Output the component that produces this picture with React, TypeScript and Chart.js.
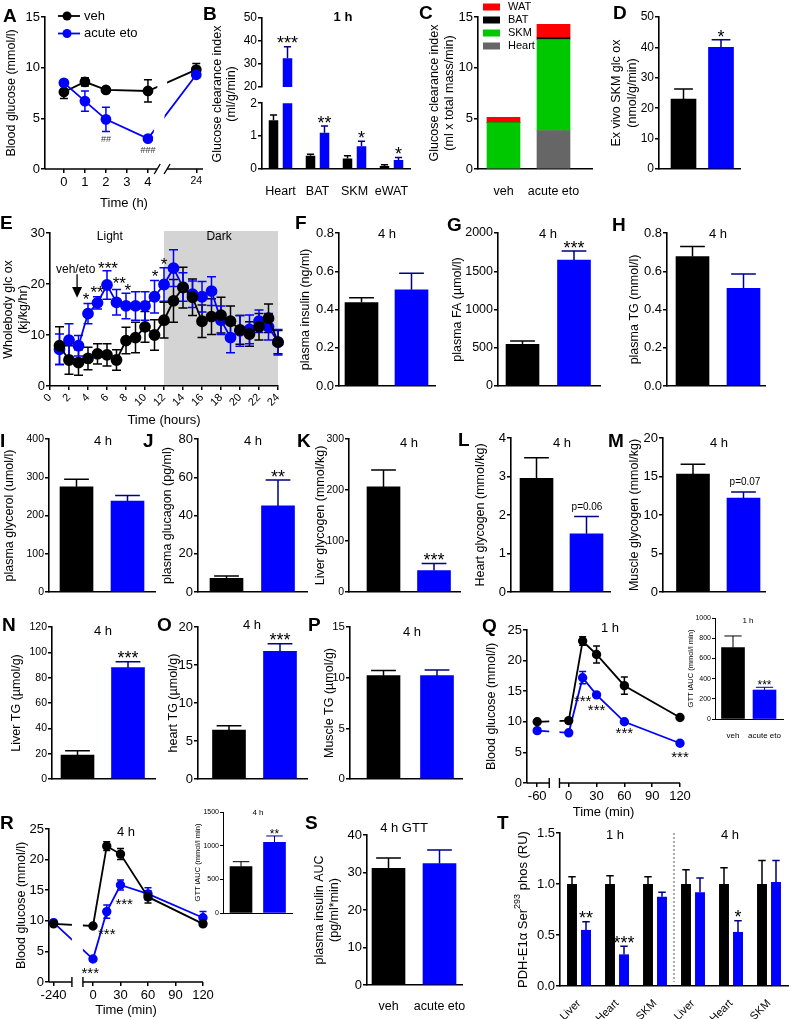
import React, { useEffect, useRef } from "react";
import { Chart, registerables } from "chart.js";

Chart.register(...registerables);
const FONT = "'Liberation Sans', Arial, Helvetica, sans-serif";
Chart.defaults.font.family = FONT;
Chart.defaults.color = "#000";

const BLACK = "#000000";
const BLUE = "#0000ff";
const NAVY = "#000080";
const GREEN = "#00c800";
const RED = "#ff0000";
const GREY = "#666666";

/* ======================= DATA ======================= */
// A
const aTimes = [0, 1, 2, 4, 24];
const aTicks = [0, 1, 2, 3, 4, 24];
const aVeh = [7.6, 8.6, 7.8, 7.7, 9.8];
const aVehErr = [0.65, 0.4, 0.15, 1.1, 0.6];
const aEto = [8.5, 6.7, 4.9, 3.0, 9.3];
const aEtoErr = [0.25, 1.0, 1.2, 0.12, 0.3];
// B
const bTissues = ["Heart", "BAT", "SKM", "eWAT"];
const bVeh = [1.48, 0.4, 0.32, 0.09];
const bVehErr = [0.16, 0.05, 0.08, 0.04];
const bEto = [32.5, 1.1, 0.69, 0.27];
const bEtoErr = [5.0, 0.21, 0.15, 0.08];
const bStars = ["***", "**", "*", "*"];
// C
const cGroups = ["veh", "acute eto"];
const cHeart = [0, 3.8];
const cSKM = [4.58, 8.98];
const cBAT = [0, 0.2];
const cWAT = [0.53, 1.3];
// D
const groups2 = ["veh", "acute eto"];
const dVals = [23.0, 40.0];
const dErrs = [3.3, 2.5];
const dStars = ["", "*"];
// E
const eHours = [1, 2, 3, 4, 5, 6, 7, 8, 9, 10, 11, 12, 13, 14, 15, 16, 17, 18, 19, 20, 21, 22, 23, 24];
const eVeh = [7.9, 5.1, 4.6, 5.4, 6.3, 6.1, 5.1, 8.9, 9.5, 11.6, 10.0, 12.9, 16.7, 19.3, 17.4, 12.7, 13.6, 13.9, 12.7, 11.0, 10.2, 11.6, 13.3, 8.6];
const eVehErr = [3.7, 2.8, 2.5, 2.2, 2.0, 2.2, 2.0, 2.6, 3.0, 3.0, 3.0, 3.5, 4.2, 4.0, 3.6, 3.2, 3.5, 3.5, 3.0, 2.8, 2.4, 2.6, 2.8, 2.3];
const eEto = [7.2, 9.0, 7.9, 14.2, 16.3, 19.8, 16.4, 15.7, 15.7, 15.7, 17.5, 19.9, 23.1, 19.4, 18.0, 17.5, 18.6, 12.9, 9.5, 10.8, 11.1, 12.7, 11.6, 8.6];
const eEtoErr = [3.0, 3.2, 2.0, 2.0, 1.2, 2.8, 2.5, 2.5, 2.8, 2.8, 3.2, 3.3, 3.6, 2.8, 2.6, 3.0, 2.8, 2.8, 3.0, 3.0, 2.8, 2.2, 2.6, 2.5];
const eStarX = [3.8, 4.95, 6.1, 7.3, 8.2, 11.05, 12.0];
const eStarY = [17.8, 19.2, 23.9, 20.9, 19.5, 22.4, 24.7];
const eStarText = ["*", "**", "***", "**", "*", "*", "*"];
const eDark = [12, 24];
// F - P (veh, acute eto)
const fVals = [0.436, 0.503];
const fErrs = [0.026, 0.087];
const gVals = [545, 1647];
const gErrs = [43, 118];
const hVals = [0.677, 0.511];
const hErrs = [0.052, 0.074];
const iVals = [275, 238];
const iErrs = [20, 14];
const jVals = [7.2, 45.0];
const jErrs = [1.2, 13.6];
const kVals = [206, 42];
const kErrs = [33, 14];
const lVals = [2.95, 1.51];
const lErrs = [0.54, 0.45];
const mVals = [15.3, 12.2];
const mErrs = [1.3, 0.8];
const nVals = [18.9, 87.9];
const nErrs = [3.4, 4.7];
const oVals = [6.45, 16.8];
const oErrs = [0.57, 1.0];
const pVals = [10.2, 10.2];
const pErrs = [0.5, 0.56];
// Q
const qTimes = [-60, 0, 15, 30, 60, 120];
const qTicks = [-60, 0, 30, 60, 90, 120];
const qVeh = [10.0, 10.2, 23.2, 21.0, 15.9, 10.7];
const qVehErr = [0.2, 0.3, 0.7, 1.4, 1.4, 0.3];
const qEto = [8.55, 8.2, 17.2, 14.4, 10.0, 6.5];
const qEtoErr = [0.2, 0.3, 1.0, 0.3, 0.3, 0.3];
const qStarX = [15, 30, 60, 120];
const qStarY = [14.0, 12.5, 8.7, 4.9];
const qAUC = [706, 287];
const qAUCErr = [116, 27];
// R
const rTimes = [-240, 0, 15, 30, 60, 120];
const rTicks = [-240, 0, 30, 60, 90, 120];
const rVeh = [9.5, 9.15, 22.2, 20.9, 13.9, 9.5];
const rVehErr = [0.2, 0.2, 0.7, 0.9, 1.0, 0.3];
const rEto = [9.7, 3.75, 11.5, 15.85, 14.4, 10.5];
const rEtoErr = [0.2, 0.3, 1.1, 0.8, 1.0, 1.0];
const rStarX = [-3, 15, 34];
const rStarY = [2.0, 8.5, 13.4];
const rAUC = [688, 1050];
const rAUCErr = [74, 94];
// S
const sVals = [31.1, 32.4];
const sErrs = [2.8, 3.6];
// T
const tLabels = ["Liver", "Heart", "SKM", "Liver", "Heart", "SKM"];
const tVeh = [1, 1, 1, 1, 1, 1];
const tVehErr = [0.07, 0.08, 0.07, 0.14, 0.16, 0.23];
const tEto = [0.55, 0.31, 0.875, 0.92, 0.53, 1.02];
const tEtoErr = [0.08, 0.08, 0.045, 0.14, 0.11, 0.21];
const tStars = ["**", "***", "", "", "*", ""];

/* ======================= HELPERS ======================= */
type Rect = { x: number; y: number; w: number; h: number };
type Area = { l: number; t: number; r: number; b: number };
type Txt = { x: number; y: number; text: string; size?: number; bold?: boolean; align?: any; color?: string; data?: boolean; star?: boolean };

const fnt = (size: number, bold = false) => `${bold ? "bold " : ""}${size}px ${FONT}`;

function baseOpts(rect: Rect, area: Area, scales: any) {
  return {
    animation: false,
    responsive: false,
    maintainAspectRatio: false,
    events: [],
    layout: { padding: { left: 0, top: area.t - rect.y, right: rect.x + rect.w - area.r, bottom: 0 } },
    plugins: { legend: { display: false }, tooltip: { enabled: false }, title: { display: false } },
    scales,
  };
}

function yAxis(rect: Rect, area: Area, min: number, max: number, step: number, o: any = {}) {
  const fs = o.fs ?? 13;
  const tfs = o.titleSize ?? 12.5;
  const lh = o.titleLH ?? 1.2;
  const vals: number[] = [];
  for (let v = min; v <= max + 1e-9; v += step) vals.push(+v.toFixed(6));
  return {
    type: "linear",
    min,
    max,
    stacked: !!o.stacked,
    afterFit: (s: any) => { s.width = area.l - rect.x; },
    afterBuildTicks: (s: any) => { s.ticks = vals.map((v) => ({ value: v })); },
    ticks: { autoSkip: false, font: { family: FONT, size: fs }, color: "#000", padding: o.pad ?? 1, callback: (v: any) => Number(v).toFixed(o.dec ?? 0) },
    grid: { display: true, drawOnChartArea: false, drawTicks: true, tickLength: o.tickLen ?? 4, color: "#000", lineWidth: o.bw ?? 1.5 },
    border: { display: true, color: "#000", width: o.bw ?? 1.6 },
    title: o.title
      ? { display: true, text: o.title, color: "#000", font: { family: FONT, size: tfs, lineHeight: lh }, padding: { top: o.titleX - rect.x - (tfs * lh) / 2, bottom: 0 } }
      : { display: false },
  };
}

function xLine(rect: Rect, area: Area, min: number, max: number, tickVals: number[], label: (v: number) => string, o: any = {}) {
  return {
    type: "linear",
    min,
    max,
    afterFit: (s: any) => { s.height = rect.y + rect.h - area.b; },
    afterBuildTicks: (s: any) => { s.ticks = tickVals.map((v) => ({ value: v })); },
    ticks: { autoSkip: false, font: o.tickFont ?? { family: FONT, size: o.fs ?? 13 }, color: "#000", padding: o.pad ?? 2, maxRotation: o.rot ?? 0, minRotation: o.rot ?? 0, callback: (v: any) => label(v) },
    grid: { display: true, drawOnChartArea: false, drawTicks: true, tickLength: 4, color: "#000", lineWidth: 1.5 },
    border: { display: !o.broken, color: "#000", width: 1.6 },
    title: { display: true, text: o.title, color: "#000", font: { family: FONT, size: 13, lineHeight: 1.2 }, padding: { top: 0, bottom: rect.y + rect.h - o.titleY - 7.8 } },
  };
}

function xBar(rect: Rect, area: Area, min: number, max: number, labels: string[] | null, o: any = {}) {
  return {
    type: "linear",
    min,
    max,
    offset: false,
    stacked: !!o.stacked,
    afterFit: (s: any) => { s.height = rect.y + rect.h - area.b; },
    afterBuildTicks: (s: any) => { s.ticks = (labels || []).map((_, i) => ({ value: i })); },
    ticks: { display: !!labels, autoSkip: false, maxRotation: 0, minRotation: 0, font: { family: FONT, size: o.fs ?? 12.5 }, color: "#000", padding: o.pad ?? 7, callback: (v: any) => (labels ? labels[v] : "") },
    grid: { display: false },
    border: { display: true, color: "#000", width: o.bw ?? 1.6 },
  };
}

function xCat(rect: Rect, area: Area, o: any = {}) {
  return {
    type: "category",
    offset: true,
    afterFit: (s: any) => { s.height = rect.y + rect.h - area.b; },
    ticks: { display: !!o.show, autoSkip: false, font: { family: FONT, size: o.fs ?? 12.5 }, color: "#000", padding: o.pad ?? 7, maxRotation: o.rot ?? 0, minRotation: o.rot ?? 0 },
    grid: { display: false },
    border: { display: o.border !== false, color: "#000", width: 1.6 },
  };
}

function lineDs(label: string, xs: number[], ys: number[], errs: number[], color: string, r: number, cap: number) {
  return {
    label,
    data: xs.map((x, i) => ({ x, y: ys[i] })),
    errors: errs,
    errorColor: color,
    capWidth: cap,
    borderColor: color,
    backgroundColor: color,
    pointBackgroundColor: color,
    pointBorderColor: color,
    pointRadius: r,
    pointHoverRadius: r,
    borderWidth: 1.8,
    tension: 0,
    clip: false,
  };
}

function errorBars(starFs = 18, starGap = 5) {
  const draw = (chart: any, kind: string) => {
    const ctx = chart.ctx;
    chart.data.datasets.forEach((ds: any, i: number) => {
      const meta = chart.getDatasetMeta(i);
      if (meta.type !== kind || !ds.errors) return;
      const ys = chart.scales[meta.yAxisID];
      meta.data.forEach((el: any, j: number) => {
        const raw = ds.data[j];
        const v = raw == null ? null : typeof raw === "number" ? raw : raw.y;
        const e = ds.errors[j];
        if (v == null || e == null) return;
        const col = Array.isArray(ds.errorColor) ? ds.errorColor[j] : ds.errorColor ?? "#000";
        ctx.save();
        ctx.strokeStyle = col;
        ctx.lineWidth = ds.errorWidth ?? 1.5;
        if (kind === "bar") {
          if (v > ys.max) { ctx.restore(); return; }
          const top = ys.getPixelForValue(Math.min(v + e, ys.max));
          const cw = Math.max(6, el.width * 0.75) / 2;
          ctx.beginPath();
          ctx.moveTo(el.x, el.y);
          ctx.lineTo(el.x, top);
          ctx.moveTo(el.x - cw, top);
          ctx.lineTo(el.x + cw, top);
          ctx.stroke();
          const s = ds.stars && ds.stars[j];
          if (s) {
            const fs = ds.starSize ?? starFs;
            ctx.fillStyle = "#000";
            ctx.font = fnt(fs);
            ctx.textAlign = "center";
            ctx.textBaseline = "alphabetic";
            ctx.fillText(s, el.x, top - (ds.starGap ?? starGap) + 0.43 * fs);
          }
        } else {
          const y1 = ys.getPixelForValue(v - e);
          const y2 = ys.getPixelForValue(v + e);
          const cw = (ds.capWidth ?? 8) / 2;
          ctx.beginPath();
          ctx.moveTo(el.x, y1);
          ctx.lineTo(el.x, y2);
          ctx.moveTo(el.x - cw, y1);
          ctx.lineTo(el.x + cw, y1);
          ctx.moveTo(el.x - cw, y2);
          ctx.lineTo(el.x + cw, y2);
          ctx.stroke();
        }
        ctx.restore();
      });
    });
  };
  return {
    id: "errorBars",
    beforeDatasetsDraw: (c: any) => draw(c, "line"),
    afterDatasetsDraw: (c: any) => draw(c, "bar"),
  };
}

function deco(rect: Rect, texts: Txt[], draw?: (ctx: any, chart: any, P: any) => void) {
  return {
    id: "deco",
    afterDraw(chart: any) {
      const ctx = chart.ctx;
      const P = { x: (v: number) => v - rect.x, y: (v: number) => v - rect.y };
      ctx.save();
      if (draw) draw(ctx, chart, P);
      for (const t of texts) {
        const size = t.size ?? 13;
        ctx.font = fnt(size, t.bold);
        ctx.fillStyle = t.color ?? "#000";
        ctx.textAlign = t.align ?? "center";
        let x: number, y: number;
        if (t.data) {
          x = chart.scales.x.getPixelForValue(t.x);
          y = chart.scales.y.getPixelForValue(t.y);
        } else {
          x = t.x - rect.x;
          y = t.y - rect.y;
        }
        if (t.star) {
          ctx.textBaseline = "alphabetic";
          y += 0.58 * size;
        } else ctx.textBaseline = "middle";
        ctx.fillText(t.text, x, y);
      }
      ctx.restore();
    },
  };
}

function vText(ctx: any, runs: { t: string; size: number; dy?: number }[], x: number, y: number) {
  ctx.save();
  ctx.translate(x, y);
  ctx.rotate(-Math.PI / 2);
  ctx.textBaseline = "middle";
  ctx.textAlign = "left";
  ctx.fillStyle = "#000";
  let total = 0;
  runs.forEach((r) => { ctx.font = fnt(r.size); total += ctx.measureText(r.t).width; });
  let cx = -total / 2;
  runs.forEach((r) => { ctx.font = fnt(r.size); ctx.fillText(r.t, cx, r.dy ?? 0); cx += ctx.measureText(r.t).width; });
  ctx.restore();
}

function brokenAxis(opt: { from: number; to: number; mark: string; band?: number[][] }) {
  return {
    id: "brokenAxis",
    afterDatasetsDraw(chart: any) {
      const { ctx, chartArea: ca, scales } = chart;
      const x = scales.x;
      const x1 = x.getPixelForValue(opt.from);
      const x2 = x.getPixelForValue(opt.to);
      ctx.save();
      ctx.fillStyle = "#fff";
      ctx.beginPath();
      if (opt.band) {
        opt.band.forEach(([p, f], i) => {
          const X = x.getPixelForValue(p);
          const Y = ca.bottom - 1 - f * (ca.bottom - 1 - ca.top);
          if (i) ctx.lineTo(X, Y); else ctx.moveTo(X, Y);
        });
        ctx.closePath();
      } else {
        ctx.rect(x1, ca.top - 2, x2 - x1, ca.bottom - ca.top + 1);
      }
      ctx.fill();
      const y = ca.bottom;
      ctx.strokeStyle = "#000";
      ctx.lineWidth = 1.6;
      ctx.beginPath();
      ctx.moveTo(ca.left, y);
      ctx.lineTo(x1, y);
      ctx.moveTo(x2, y);
      ctx.lineTo(ca.right, y);
      ctx.stroke();
      ctx.lineWidth = 1.4;
      ctx.beginPath();
      if (opt.mark === "bar") {
        ctx.moveTo(x1, y - 5); ctx.lineTo(x1, y + 5);
        ctx.moveTo(x2, y - 5); ctx.lineTo(x2, y + 5);
      } else {
        ctx.moveTo(x1 - 3, y + 5); ctx.lineTo(x1 + 3, y - 5);
        ctx.moveTo(x2 - 3, y + 5); ctx.lineTo(x2 + 3, y - 5);
      }
      ctx.stroke();
      ctx.restore();
    },
  };
}

function twoBar(p: any) {
  const { rect, area } = p;
  const unit = p.centers[1] - p.centers[0];
  const min = (area.l - p.centers[0]) / unit;
  const max = (area.r - p.centers[0]) / unit;
  const config = {
    type: "bar",
    data: {
      datasets: [
        {
          label: "veh / acute eto",
          data: p.values.map((v: number, i: number) => ({ x: i, y: v })),
          backgroundColor: [BLACK, BLUE],
          borderWidth: 0,
          barThickness: p.barW,
          errors: p.errors,
          errorColor: [BLACK, NAVY],
          errorWidth: p.errW ?? 1.5,
          stars: p.stars,
          starSize: p.starFs,
          starGap: p.starGap,
        },
      ],
    },
    options: baseOpts(rect, area, {
      x: xBar(rect, area, min, max, p.groups ?? null, { fs: p.labelFs, pad: p.labelPad, bw: p.bw }),
      y: yAxis(rect, area, 0, p.yMax, p.yStep, { dec: p.dec, title: p.yTitle, titleX: p.yTitleX, titleLH: p.titleLH, titleSize: p.titleSize, fs: p.fs, tickLen: p.tickLen, bw: p.bw, pad: p.tickPad }),
    }),
    plugins: [errorBars(), deco(rect, p.texts ?? [])],
  };
  return { rect, config };
}

/* ======================= PANELS ======================= */
const aPos = (t: number) => (t <= 4 ? t : 6.3);
const qPos = (t: number) => (t === -60 ? -34 : t);
const rPos = (t: number) => (t === -240 ? -43 : t);

function panelA() {
  const rect = { x: 0, y: 0, w: 215, h: 212 };
  const area = { l: 45, t: 17, r: 203, b: 169 };
  const tp = aTicks.map(aPos);
  const config = {
    type: "line",
    data: {
      datasets: [
        lineDs("acute eto", aTimes.map(aPos), aEto, aEtoErr, BLUE, 4.5, 8),
        lineDs("veh", aTimes.map(aPos), aVeh, aVehErr, BLACK, 4.5, 8),
      ],
    },
    options: baseOpts(rect, area, {
      x: xLine(rect, area, -0.9, 6.62, tp, (v) => String(aTicks[tp.indexOf(v)]), {
        title: "Time (h)", titleY: 203, broken: true,
        tickFont: (c: any) => ({ family: FONT, size: c.tick && c.tick.value > 5 ? 10.5 : 13 }),
      }),
      y: yAxis(rect, area, 0, 15, 5, { title: "Blood glucose (mmol/l)", titleX: 12 }),
    }),
    plugins: [
      errorBars(),
      brokenAxis({ from: 4.44, to: 4.91, mark: "slash", band: [[4.15, 0], [4.6, 0], [5.15, 1], [4.7, 1]] }),
      deco(
        rect,
        [
          { x: 2, y: 2.9, text: "##", size: 9, data: true, color: "#333" },
          { x: 4, y: 1.8, text: "###", size: 9, data: true, color: "#333" },
        ],
        (ctx, chart, P) => {
          const ds = chart.data.datasets.slice().reverse();
          ds.forEach((d: any, k: number) => {
            const y = P.y(16 + k * 17.5);
            ctx.strokeStyle = d.borderColor;
            ctx.lineWidth = 1.8;
            ctx.beginPath();
            ctx.moveTo(P.x(58), y);
            ctx.lineTo(P.x(80), y);
            ctx.stroke();
            ctx.fillStyle = d.borderColor;
            ctx.beginPath();
            ctx.arc(P.x(67), y, 4.5, 0, Math.PI * 2);
            ctx.fill();
            ctx.fillStyle = "#000";
            ctx.font = fnt(13);
            ctx.textAlign = "left";
            ctx.textBaseline = "middle";
            ctx.fillText(d.label, P.x(84), y);
          });
        }
      ),
    ],
  };
  return { rect, config };
}

function bDatasets(filter: (v: number) => number | null) {
  return [
    { label: "veh", data: bVeh.map(filter), backgroundColor: BLACK, errors: bVehErr, errorColor: BLACK, categoryPercentage: 0.757, barPercentage: 0.68 },
    { label: "acute eto", data: bEto.map(filter), backgroundColor: BLUE, errors: bEtoErr, errorColor: NAVY, stars: bStars, categoryPercentage: 0.757, barPercentage: 0.68 },
  ];
}

function panelBTop() {
  const rect = { x: 205, y: 0, w: 215, h: 212 };
  const area = { l: 262, t: 18, r: 410, b: 87 };
  const config = {
    type: "bar",
    data: { labels: bTissues, datasets: bDatasets((v) => (v >= 20 ? v : null)) },
    options: baseOpts(rect, area, {
      x: xCat(rect, area, { show: false, border: false }),
      y: yAxis(rect, area, 20, 50, 10, { fs: 12 }),
    }),
    plugins: [
      errorBars(),
      deco(rect, [{ x: 343, y: 17, text: "1 h", bold: true, size: 13 }], (ctx, chart, P) => {
        vText(ctx, [{ t: "Glucose clearance index", size: 12.5 }], P.x(218), P.y(94));
        vText(ctx, [{ t: "(ml/g/min)", size: 12.5 }], P.x(232), P.y(94));
      }),
    ],
  };
  return { rect, config };
}

function panelBBottom() {
  const rect = { x: 205, y: 95, w: 215, h: 117 };
  const area = { l: 262, t: 102, r: 410, b: 169 };
  const config = {
    type: "bar",
    data: { labels: bTissues, datasets: bDatasets((v) => v) },
    options: baseOpts(rect, area, {
      x: xCat(rect, area, { show: true, pad: 7 }),
      y: yAxis(rect, area, 0, 2, 1, { fs: 12 }),
    }),
    plugins: [errorBars(), deco(rect, [])],
  };
  return { rect, config };
}

function panelC() {
  const rect = { x: 420, y: 0, w: 185, h: 212 };
  const area = { l: 478, t: 17, r: 592, b: 169 };
  const unit = 50;
  const c0 = 503.5;
  const mk = (label: string, vals: number[], color: string) => ({
    label,
    data: vals.map((v, i) => ({ x: i, y: v })),
    backgroundColor: color,
    borderWidth: 0,
    barThickness: 33,
  });
  const config = {
    type: "bar",
    data: {
      datasets: [mk("Heart", cHeart, GREY), mk("SKM", cSKM, GREEN), mk("BAT", cBAT, BLACK), mk("WAT", cWAT, RED)],
    },
    options: baseOpts(rect, area, {
      x: xBar(rect, area, (area.l - c0) / unit, (area.r - c0) / unit, cGroups, { stacked: true, pad: 7 }),
      y: yAxis(rect, area, 0, 15, 5, { stacked: true, title: ["Glucose clearance index", "(ml x total mass/min)"], titleX: 435, titleLH: 1.2 }),
    }),
    plugins: [
      deco(rect, [], (ctx, chart, P) => {
        const ds = chart.data.datasets.slice().reverse();
        ds.forEach((d: any, k: number) => {
          const y = 7 + k * 13;
          ctx.fillStyle = d.backgroundColor;
          ctx.fillRect(P.x(483), P.y(y - 3.5), 17, 7);
          ctx.fillStyle = "#000";
          ctx.font = fnt(11);
          ctx.textAlign = "left";
          ctx.textBaseline = "middle";
          ctx.fillText(d.label, P.x(508), P.y(y));
        });
      }),
    ],
  };
  return { rect, config };
}

const panelD = () =>
  twoBar({ rect: { x: 605, y: 0, w: 145, h: 185 }, area: { l: 659, t: 17, r: 740, b: 169 }, values: dVals, errors: dErrs, stars: dStars, yMax: 50, yStep: 10, fs: 12, centers: [683.5, 721], barW: 25, yTitle: ["Ex vivo SKM glc ox", "(nmol/g/min)"], yTitleX: 617, titleLH: 1.25 });

function panelE() {
  const rect = { x: 0, y: 215, w: 300, h: 215 };
  const area = { l: 50, t: 233, r: 278, b: 386 };
  const ticks = [0, 2, 4, 6, 8, 10, 12, 14, 16, 18, 20, 22, 24];
  const shade = {
    id: "shade",
    beforeDatasetsDraw(chart: any) {
      const { ctx, chartArea: ca, scales } = chart;
      const x1 = scales.x.getPixelForValue(eDark[0]);
      const x2 = scales.x.getPixelForValue(eDark[1]);
      ctx.save();
      ctx.fillStyle = "#d4d4d4";
      ctx.fillRect(x1, ca.top - 2, x2 - x1, ca.bottom - ca.top + 1);
      ctx.restore();
    },
  };
  const texts: Txt[] = eStarText.map((t, i) => ({ x: eStarX[i], y: eStarY[i], text: t, data: true, star: true, size: 17 }));
  texts.push({ x: 6.3, y: 29.3, text: "Light", data: true, size: 12 });
  texts.push({ x: 17.8, y: 29.3, text: "Dark", data: true, size: 12 });
  texts.push({ x: 2.7, y: 22.8, text: "veh/eto", data: true, size: 12 });
  const config = {
    type: "line",
    data: {
      datasets: [lineDs("veh", eHours, eVeh, eVehErr, BLACK, 5, 9), lineDs("acute eto", eHours, eEto, eEtoErr, BLUE, 5, 9)],
    },
    options: baseOpts(rect, area, {
      x: xLine(rect, area, 0, 24, ticks, (v) => String(v), { title: "Time (hours)", titleY: 420, rot: 45, fs: 11, pad: 1 }),
      y: yAxis(rect, area, 0, 30, 10, { title: ["Wholebody glc ox", "(kj/kg/hr)"], titleX: 9, titleLH: 1.2 }),
    }),
    plugins: [
      shade,
      errorBars(),
      deco(rect, texts, (ctx, chart) => {
        const xs = chart.scales.x;
        const ys = chart.scales.y;
        const X = xs.getPixelForValue(2.85);
        ctx.strokeStyle = "#000";
        ctx.lineWidth = 1.3;
        ctx.beginPath();
        ctx.moveTo(X, ys.getPixelForValue(21.9));
        ctx.lineTo(X, ys.getPixelForValue(19.4));
        ctx.stroke();
        ctx.fillStyle = "#000";
        ctx.beginPath();
        ctx.moveTo(X - 5, ys.getPixelForValue(19.4));
        ctx.lineTo(X + 5, ys.getPixelForValue(19.4));
        ctx.lineTo(X, ys.getPixelForValue(17.3));
        ctx.closePath();
        ctx.fill();
      }),
    ],
  };
  return { rect, config };
}

const t4 = (x: number, y: number): Txt => ({ x, y, text: "4 h", size: 13 });

const panelF = () => twoBar({ rect: { x: 293, y: 215, w: 152, h: 185 }, area: { l: 339, t: 233, r: 435, b: 386 }, values: fVals, errors: fErrs, yMax: 0.8, yStep: 0.2, dec: 1, centers: [361.5, 411.5], barW: 33, yTitle: "plasma insulin (ng/ml)", yTitleX: 306, texts: [t4(387, 234)] });
const panelG = () => twoBar({ rect: { x: 445, y: 215, w: 165, h: 185 }, area: { l: 498, t: 233, r: 600, b: 386 }, values: gVals, errors: gErrs, stars: ["", "***"], yMax: 2000, yStep: 500, fs: 12.5, centers: [522.5, 574], barW: 33, yTitle: "plasma FA (µmol/l)", yTitleX: 458, texts: [t4(548, 234)] });
const panelH = () => twoBar({ rect: { x: 612, y: 215, w: 170, h: 185 }, area: { l: 667, t: 233, r: 765, b: 386 }, values: hVals, errors: hErrs, yMax: 0.8, yStep: 0.2, dec: 1, centers: [692.5, 743.5], barW: 33, yTitle: "plasma TG (mmol/l)", yTitleX: 635, texts: [t4(718, 234)] });
const panelI = () => twoBar({ rect: { x: 0, y: 425, w: 160, h: 180 }, area: { l: 49, t: 439, r: 155, b: 592 }, values: iVals, errors: iErrs, yMax: 400, yStep: 100, fs: 10.5, centers: [76.5, 127.5], barW: 33, yTitle: "plasma glycerol (umol/l)", yTitleX: 10, texts: [t4(103, 441)] });
const panelJ = () => twoBar({ rect: { x: 152, y: 425, w: 160, h: 180 }, area: { l: 198, t: 439, r: 307, b: 592 }, values: jVals, errors: jErrs, stars: ["", "**"], yMax: 80, yStep: 20, centers: [226.5, 278], barW: 33, yTitle: "plasma glucagon (pg/ml)", yTitleX: 168, texts: [t4(253, 441)] });
const panelK = () => twoBar({ rect: { x: 305, y: 425, w: 160, h: 180 }, area: { l: 349, t: 439, r: 460, b: 592 }, values: kVals, errors: kErrs, stars: ["", "***"], yMax: 300, yStep: 100, fs: 10.5, centers: [383.5, 434], barW: 33, yTitle: "Liver glycogen (mmol/kg)", yTitleX: 321, texts: [t4(409, 443)] });
const panelL = () => twoBar({ rect: { x: 462, y: 425, w: 155, h: 180 }, area: { l: 511, t: 438, r: 610, b: 592 }, values: lVals, errors: lErrs, yMax: 4, yStep: 1, centers: [536.5, 586.5], barW: 33, yTitle: "Heart glycogen (mmol/kg)", yTitleX: 481, texts: [t4(562, 443), { x: 587, y: 507, text: "p=0.06", size: 10 }] });
const panelM = () => twoBar({ rect: { x: 617, y: 425, w: 165, h: 180 }, area: { l: 663, t: 438, r: 765, b: 592 }, values: mVals, errors: mErrs, yMax: 20, yStep: 5, centers: [693, 743.5], barW: 33, yTitle: "Muscle glycogen (mmol/kg)", yTitleX: 635, texts: [t4(719, 443), { x: 745, y: 482, text: "p=0.07", size: 10 }] });
const panelN = () => twoBar({ rect: { x: 0, y: 612, w: 160, h: 180 }, area: { l: 52, t: 627, r: 155, b: 779 }, values: nVals, errors: nErrs, stars: ["", "***"], yMax: 120, yStep: 20, fs: 10.5, centers: [77.5, 128], barW: 33, yTitle: "Liver TG (µmol/g)", yTitleX: 17, texts: [t4(103, 631)] });
const panelO = () => twoBar({ rect: { x: 155, y: 612, w: 160, h: 180 }, area: { l: 198, t: 627, r: 307, b: 779 }, values: oVals, errors: oErrs, stars: ["", "***"], yMax: 20, yStep: 5, centers: [229, 280], barW: 33, yTitle: "heart TG (µmol/g)", yTitleX: 174, texts: [t4(252, 625)] });
const panelP = () => twoBar({ rect: { x: 310, y: 612, w: 160, h: 180 }, area: { l: 350, t: 627, r: 462, b: 779 }, values: pVals, errors: pErrs, yMax: 15, yStep: 5, fs: 11.5, centers: [383.5, 437], barW: 33, yTitle: "Muscle TG (µmol/g)", yTitleX: 330, texts: [t4(412, 632)] });

function gttPanel(o: any) {
  const { rect, area, times, ticks, pos, veh, vehErr, eto, etoErr, starX, starY } = o;
  const tp = ticks.map(pos);
  const texts: Txt[] = starX.map((x: number, i: number) => ({ x, y: starY[i], text: "***", data: true, star: true, size: 15 }));
  texts.push(o.title);
  const config = {
    type: "line",
    data: {
      datasets: [lineDs("veh", times.map(pos), veh, vehErr, BLACK, 3.8, 7), lineDs("acute eto", times.map(pos), eto, etoErr, BLUE, 3.8, 7)],
    },
    options: baseOpts(rect, area, {
      x: xLine(rect, area, o.xmin, 120, tp, (v) => String(ticks[tp.indexOf(v)]), { title: "Time (min)", titleY: o.xTitleY, broken: true }),
      y: yAxis(rect, area, 0, 25, 5, { title: "Blood glucose (mmol/l)", titleX: o.yTitleX }),
    }),
    plugins: [errorBars(), brokenAxis({ from: o.gap[0], to: o.gap[1], mark: "bar" }), deco(rect, texts)],
  };
  return { rect, config };
}

const panelQ = () =>
  gttPanel({ rect: { x: 470, y: 612, w: 225, h: 210 }, area: { l: 527, t: 630, r: 680, b: 783 }, times: qTimes, ticks: qTicks, pos: qPos, veh: qVeh, vehErr: qVehErr, eto: qEto, etoErr: qEtoErr, starX: qStarX, starY: qStarY, xmin: -45, gap: [-21, -10], xTitleY: 812, yTitleX: 492, title: { x: 610, y: 628, text: "1 h", size: 13 } });
const panelR = () =>
  gttPanel({ rect: { x: 0, y: 810, w: 225, h: 209 }, area: { l: 49, t: 829, r: 203, b: 982 }, times: rTimes, ticks: rTicks, pos: rPos, veh: rVeh, vehErr: rVehErr, eto: rEto, etoErr: rEtoErr, starX: rStarX, starY: rStarY, xmin: -48, gap: [-23, -11], xTitleY: 1010, yTitleX: 22, title: { x: 126, y: 832, text: "4 h", size: 13 } });

const panelQi = () =>
  twoBar({ rect: { x: 680, y: 605, w: 110, h: 135 }, area: { l: 715, t: 618, r: 783, b: 719 }, groups: groups2, labelFs: 8, labelPad: 4, values: qAUC, errors: qAUCErr, stars: ["", "***"], starFs: 12, starGap: 3, yMax: 1000, yStep: 200, fs: 7, tickLen: 3, bw: 1, tickPad: 1, errW: 1, centers: [733, 764.5], barW: 23, yTitle: "GTT iAUC (mmol/l min)", yTitleX: 691, titleSize: 7.5, texts: [{ x: 748, y: 621, text: "1 h", size: 8 }] });
const panelRi = () =>
  twoBar({ rect: { x: 185, y: 800, w: 110, h: 125 }, area: { l: 223, t: 812, r: 292, b: 913 }, values: rAUC, errors: rAUCErr, stars: ["", "**"], starFs: 12, starGap: 3, yMax: 1500, yStep: 500, fs: 7, tickLen: 3, bw: 1, tickPad: 1, errW: 1, centers: [241, 274.5], barW: 22, yTitle: "GTT iAUC (mmol/l min)", yTitleX: 198, titleSize: 7.5, texts: [{ x: 258, y: 813, text: "4 h", size: 8 }] });

const panelS = () =>
  twoBar({ rect: { x: 305, y: 815, w: 170, h: 204 }, area: { l: 367, t: 835, r: 462, b: 985 }, groups: groups2, labelPad: 6, values: sVals, errors: sErrs, yMax: 40, yStep: 10, centers: [388.5, 439.5], barW: 33, yTitle: ["plasma insulin AUC", "(pg/ml*min)"], yTitleX: 320, titleLH: 1.15, texts: [{ x: 404, y: 828, text: "4 h GTT", size: 13 }] });

function panelT() {
  const rect = { x: 490, y: 815, w: 301, h: 204 };
  const area = { l: 560, t: 833, r: 788, b: 986 };
  const config = {
    type: "bar",
    data: {
      labels: tLabels,
      datasets: [
        { label: "veh", data: tVeh, backgroundColor: BLACK, errors: tVehErr, errorColor: BLACK, categoryPercentage: 0.737, barPercentage: 0.71 },
        { label: "acute eto", data: tEto, backgroundColor: BLUE, errors: tEtoErr, errorColor: NAVY, stars: tStars, categoryPercentage: 0.737, barPercentage: 0.71 },
      ],
    },
    options: baseOpts(rect, area, {
      x: xCat(rect, area, { show: true, fs: 11, pad: 3, rot: 45 }),
      y: yAxis(rect, area, 0, 1.5, 0.5, { dec: 1 }),
    }),
    plugins: [
      errorBars(),
      deco(rect, [{ x: 615, y: 835, text: "1 h", size: 13 }, { x: 730, y: 835, text: "4 h", size: 13 }], (ctx, chart, P) => {
        const ca = chart.chartArea;
        const X = chart.scales.x.getPixelForValue(2.5);
        ctx.save();
        ctx.strokeStyle = "#555";
        ctx.lineWidth = 1;
        ctx.setLineDash([2, 2]);
        ctx.beginPath();
        ctx.moveTo(X, ca.top);
        ctx.lineTo(X, ca.bottom - 4);
        ctx.stroke();
        ctx.restore();
        vText(ctx, [{ t: "PDH-E1α Ser", size: 13 }, { t: "293", size: 9, dy: -5 }, { t: " phos (RU)", size: 13 }], P.x(523), (ca.top + ca.bottom) / 2);
      }),
    ],
  };
  return { rect, config };
}

const panels = [panelA, panelBTop, panelBBottom, panelC, panelD, panelE, panelF, panelG, panelH, panelI, panelJ, panelK, panelL, panelM, panelN, panelO, panelP, panelQ, panelQi, panelR, panelRi, panelS, panelT];

const letters: [string, number, number][] = [
  ["A", 3, 8], ["B", 203, 6], ["C", 419, 5], ["D", 613, 5],
  ["E", 0, 215], ["F", 295, 215], ["G", 447, 217], ["H", 612, 217],
  ["I", 0, 433], ["J", 143, 433], ["K", 297, 433], ["L", 458, 432], ["M", 608, 433],
  ["N", 2, 617], ["O", 157, 617], ["P", 308, 617], ["Q", 482, 618],
  ["R", 0, 815], ["S", 305, 815], ["T", 497, 815],
];

function ChartCanvas({ build }: { build: () => { rect: Rect; config: any } }) {
  const ref = useRef<HTMLCanvasElement>(null);
  const { rect } = build();
  useEffect(() => {
    const { config } = build();
    const chart = new Chart(ref.current as HTMLCanvasElement, config as any);
    return () => chart.destroy();
  }, []);
  return (
    <canvas
      ref={ref}
      width={rect.w}
      height={rect.h}
      style={{ position: "absolute", left: rect.x, top: rect.y, width: rect.w, height: rect.h, display: "block" }}
    />
  );
}

export default function App() {
  return (
    <div style={{ position: "absolute", left: 0, top: 0, width: 791, height: 1019, background: "#fff", overflow: "hidden", fontFamily: FONT }}>
      {panels.map((b, i) => (
        <ChartCanvas key={i} build={b} />
      ))}
      {letters.map(([t, x, y]) => (
        <div key={t} style={{ position: "absolute", left: x, top: y - 2.5, fontSize: 19, lineHeight: "19px", fontWeight: "bold", fontFamily: FONT, color: "#000" }}>
          {t}
        </div>
      ))}
    </div>
  );
}
